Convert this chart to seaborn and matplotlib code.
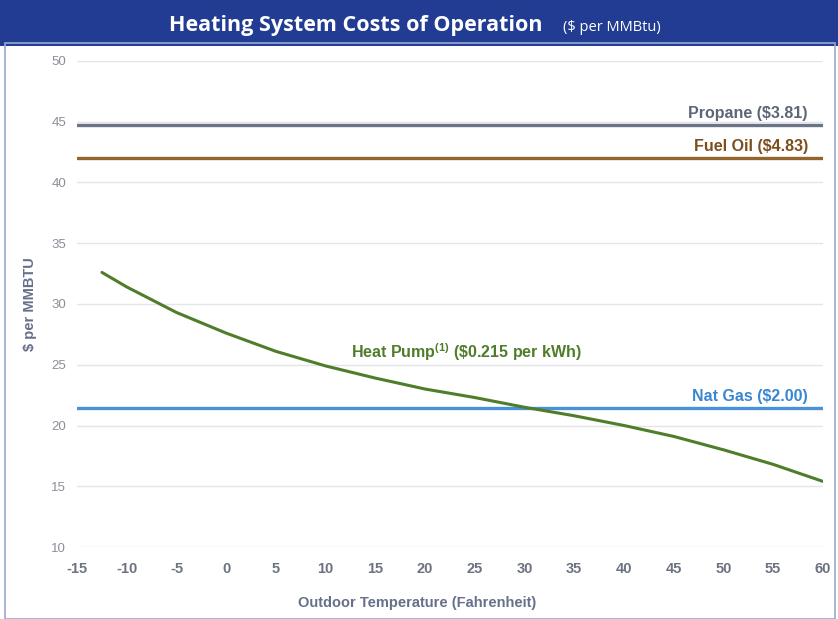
import seaborn as sns
import matplotlib.pyplot as plt
import matplotlib.patches as patches
import pandas as pd

# heat pump cost curve
temps = [-12.5, -10, -5, 0, 5, 10, 15, 20, 25, 30, 35, 40, 45, 50, 55, 60]
heat_pump = [32.6, 31.4, 29.3, 27.6, 26.1, 24.9, 23.9, 23.0, 22.3, 21.5, 20.8, 20.0, 19.1, 18.0, 16.8, 15.4]

# flat fuel costs
fuel_names = ["Propane ($3.81)", "Fuel Oil ($4.83)", "Nat Gas ($2.00)"]
fuel_costs = [44.7, 42.0, 21.4]
fuel_colors = ["#6b7386", "#93642b", "#4a92d8"]
label_colors = ["#5d6577", "#7c4e1c", "#3a86d0"]

x_ticks = list(range(-15, 61, 5))
y_ticks = list(range(10, 51, 5))

sns.set_style("white")
plt.rcParams["font.family"] = ["Liberation Sans", "DejaVu Sans"]
plt.rcParams["mathtext.default"] = "regular"

fig = plt.figure(figsize=(8.38, 6.19), dpi=100)
ax = fig.add_axes([0.092, 0.1163, 0.890, 0.7852])

# title banner and frame
fig.patches.append(patches.Rectangle((0, 0.925), 1, 0.075, transform=fig.transFigure,
                                     facecolor="#223c93", edgecolor="none", zorder=0))
fig.patches.append(patches.Rectangle((0.006, 0.0), 0.990, 0.93, transform=fig.transFigure,
                                     facecolor="none", edgecolor="#9aaad0", lw=1.2, zorder=0))
fig.text(0.647, 0.958, "Heating System Costs of Operation", color="white", fontsize=15.5,
         fontweight="bold", family=["Open Sans", "DejaVu Sans"], ha="right", va="center")
fig.text(0.672, 0.956, "($ per MMBtu)", color="white", fontsize=10.5,
         family=["Open Sans", "DejaVu Sans"], ha="left", va="center")

df = pd.DataFrame({"temp": temps, "cost": heat_pump})
sns.lineplot(data=df, x="temp", y="cost", color="#4f7d2a", lw=2.2, ax=ax, zorder=3)

for cost, col in zip(fuel_costs, fuel_colors):
    ax.axhline(cost, color=col, lw=2.4, zorder=2)

for name, cost, col in zip(fuel_names, fuel_costs, label_colors):
    ax.text(58.5, cost + 0.35, name, color=col, fontsize=11.5,
            fontweight="bold", ha="right", va="bottom")
ax.text(24.1, 26.0, "Heat Pump$^{(1)}$ (\\$0.215 per kWh)", color="#4f7d2a", fontsize=11.5,
        fontweight="bold", ha="center", va="center")

ax.set_xlim(-15, 60)
ax.set_ylim(10, 50)
ax.set_xticks(x_ticks)
ax.set_yticks(y_ticks)
ax.set_xticklabels([str(t) for t in x_ticks], fontweight="bold", color="#6d7280", fontsize=10.5)
ax.set_yticklabels([str(t) for t in y_ticks], color="#8a8f99", fontsize=9.5)
ax.tick_params(axis="x", length=0, pad=11)
ax.tick_params(axis="y", length=0, pad=8)
ax.grid(axis="y", color="#e3e5ea", lw=1)
ax.set_axisbelow(True)
sns.despine(ax=ax, left=True, bottom=True)

ax.set_xlabel("Outdoor Temperature (Fahrenheit)", fontsize=10.5, fontweight="bold",
              color="#66708a", labelpad=14, x=0.456)
ax.set_ylabel("$ per MMBTU", fontsize=10.5, fontweight="bold", color="#66708a", labelpad=10)

fig.savefig("out.png", dpi=100)
